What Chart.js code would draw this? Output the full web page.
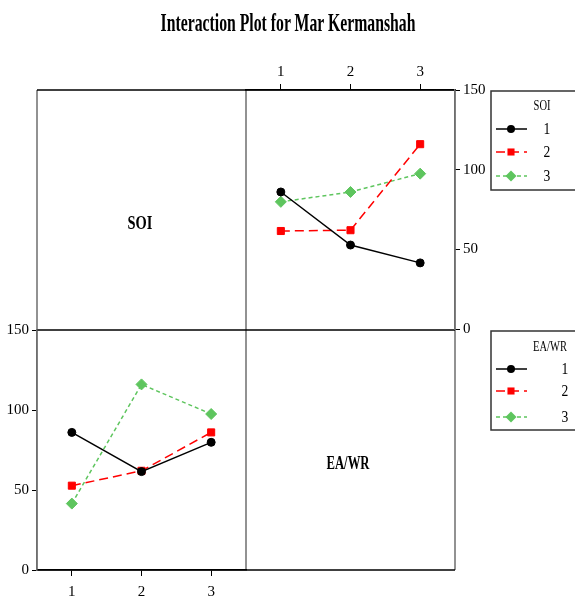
<!DOCTYPE html>
<html>
<head>
<meta charset="utf-8">
<script src="https://cdn.jsdelivr.net/npm/chart.js@4.4.1/dist/chart.umd.min.js"></script>
<style>
  html, body { margin: 0; padding: 0; background: #fff; }
  #wrap { position: relative; width: 575px; height: 599px; overflow: hidden; }
  canvas { position: absolute; left: 0; top: 0; }
  .lbl { position: absolute; font-family: 'Liberation Serif', serif; font-weight: bold; color: #000; white-space: nowrap; line-height: 1.1; }
  #title { left: 288px; top: 23px; font-size: 25px; transform: translate(-50%, -50%) scaleX(0.63); }
  #soiLbl { left: 140px; top: 223px; font-size: 19px; transform: translate(-50%, -50%) scaleX(0.76); }
  #eaLbl { left: 348px; top: 463px; font-size: 19px; transform: translate(-50%, -50%) scaleX(0.67); }
</style>
</head>
<body>
<div id="wrap">
  <canvas id="leftChart" width="575" height="599"></canvas>
  <canvas id="rightChart" width="575" height="599"></canvas>
  <div class="lbl" id="title">Interaction Plot for Mar Kermanshah</div>
  <div class="lbl" id="soiLbl">SOI</div>
  <div class="lbl" id="eaLbl">EA/WR</div>
</div>

<script>
// levels of both factors
var levels = ['1', '2', '3'];

// mean response for each SOI level, across EA/WR = 1, 2, 3
var soi1 = [86.0, 52.7, 41.5];
var soi2 = [61.5, 62.0, 116.0];
var soi3 = [79.8, 86.0, 97.5];

var yTicks = [0, 50, 100, 150];

// same table seen the other way: one line per EA/WR level, across SOI = 1, 2, 3
var soiRows = [soi1, soi2, soi3];
var eawr = levels.map(function(l, j) {
    return soiRows.map(function(row) { return row[j]; });
});

var looks = [
    { color: '#000000', dash: [], point: 'circle', r: 4 },
    { color: '#ff0000', dash: [9, 5], point: 'rect', r: 5 },
    { color: '#5ec55e', dash: [4, 3], point: 'rectRot', r: 5.5 }
];

function series(label, values, i) {
    var lk = looks[i];
    return {
        label: label,
        data: values,
        borderColor: lk.color,
        backgroundColor: lk.color,
        borderWidth: 1.5,
        borderDash: lk.dash,
        pointStyle: lk.point,
        pointRadius: lk.r,
        pointBorderWidth: 1,
        tension: 0
    };
}

Chart.defaults.font.family = "'Liberation Serif', serif";
Chart.defaults.font.size = 15;
Chart.defaults.color = '#000';

function marker(ctx, style, r, x, y) {
    ctx.beginPath();
    if (style == 'circle') {
        ctx.arc(x, y, r, 0, Math.PI * 2);
    } else if (style == 'rect') {
        var s = r * Math.SQRT1_2;
        ctx.rect(x - s, y - s, 2 * s, 2 * s);
    } else {
        ctx.moveTo(x, y - r); ctx.lineTo(x + r, y); ctx.lineTo(x, y + r); ctx.lineTo(x - r, y);
        ctx.closePath();
    }
    ctx.fill();
}

// legend box to the right of the panels
var legendBox = {
    id: 'legendBox',
    afterDraw: function(chart, args, o) {
        var ctx = chart.ctx;
        ctx.save();
        ctx.strokeStyle = '#333';
        ctx.lineWidth = 1.5;
        ctx.strokeRect(o.x, o.y, 140, o.h);

        ctx.fillStyle = '#000';
        ctx.textBaseline = 'middle';
        ctx.textAlign = 'center';
        ctx.font = "14px 'Liberation Serif'";
        ctx.save();
        ctx.translate(o.titleX, o.titleY);
        ctx.scale(0.75, 1);
        ctx.fillText(o.title, 0, 0);
        ctx.restore();

        chart.data.datasets.forEach(function(ds, i) {
            var y = o.rows[i];
            ctx.strokeStyle = ds.borderColor;
            ctx.lineWidth = ds.borderWidth;
            ctx.setLineDash(ds.borderDash);
            ctx.beginPath();
            ctx.moveTo(496, y);
            ctx.lineTo(527, y);
            ctx.stroke();
            ctx.setLineDash([]);
            ctx.fillStyle = ds.backgroundColor;
            marker(ctx, ds.pointStyle, ds.pointRadius, 511, y);

            ctx.fillStyle = '#000';
            ctx.font = "17px 'Liberation Serif'";
            ctx.save();
            ctx.translate(o.labelX, y + 1);
            ctx.scale(0.8, 1);
            ctx.fillText(ds.label, 0, 0);
            ctx.restore();
        });
        ctx.restore();
    }
};

// the 2x2 frame, taken from the lower-left chart area
var frame = {
    id: 'frame',
    beforeDraw: function(chart) {
        var a = chart.chartArea;
        var w = a.right - a.left, h = a.bottom - a.top;
        var ctx = chart.ctx;
        ctx.save();
        ctx.lineWidth = 1.5;
        ctx.strokeStyle = '#6e6e6e';
        [a.left, a.right, a.right + w].forEach(function(x) {
            ctx.beginPath(); ctx.moveTo(x, a.top - h); ctx.lineTo(x, a.bottom); ctx.stroke();
        });
        ctx.strokeStyle = '#000';
        [a.top - h, a.top, a.bottom].forEach(function(y) {
            ctx.beginPath(); ctx.moveTo(a.left, y); ctx.lineTo(a.right + w, y); ctx.stroke();
        });
        ctx.restore();
    }
};

function yScale(pos, width) {
    return {
        position: pos,
        min: yTicks[0],
        max: yTicks[yTicks.length - 1],
        afterBuildTicks: function(s) { s.ticks = yTicks.map(function(v) { return { value: v }; }); },
        ticks: { padding: 3 },
        grid: { drawOnChartArea: false, tickLength: 5, color: '#000' },
        border: { color: '#6e6e6e', width: 1.5 },
        afterFit: function(s) { s.width = width; s.paddingTop = 0; s.paddingBottom = 0; }
    };
}

function xScale(pos, height, pad) {
    return {
        type: 'category',
        position: pos,
        offset: true,
        ticks: { padding: pad },
        grid: { offset: false, drawOnChartArea: false, tickLength: 6, color: '#000' },
        border: { color: '#000', width: 1.5 },
        afterFit: function(s) { s.height = height; s.paddingLeft = 0; s.paddingRight = 0; }
    };
}

// lower left: EA/WR lines across SOI
new Chart(document.getElementById('leftChart'), {
    type: 'line',
    data: {
        labels: levels,
        datasets: eawr.map(function(v, i) { return series(levels[i], v, i); })
    },
    options: {
        responsive: false,
        animation: false,
        layout: { padding: { left: 0, right: 329, top: 330, bottom: 0 } },
        plugins: {
            legend: { display: false },
            tooltip: { enabled: false },
            legendBox: { x: 491, y: 331, h: 99, title: 'EA/WR', titleX: 550, titleY: 347, labelX: 565, rows: [369, 391, 417] }
        },
        scales: {
            x: xScale('bottom', 29, 7),
            y: yScale('left', 37)
        }
    },
    plugins: [frame, legendBox]
});

// upper right: SOI lines across EA/WR
new Chart(document.getElementById('rightChart'), {
    type: 'line',
    data: {
        labels: levels,
        datasets: soiRows.map(function(v, i) { return series(levels[i], v, i); })
    },
    options: {
        responsive: false,
        animation: false,
        layout: { padding: { left: 246, right: 84, top: 60, bottom: 270 } },
        plugins: {
            legend: { display: false },
            tooltip: { enabled: false },
            legendBox: { x: 491, y: 91, h: 99, title: 'SOI', titleX: 542, titleY: 106, labelX: 547, rows: [129, 152, 176] }
        },
        scales: {
            x: xScale('top', 30, 3),
            y: yScale('right', 36)
        }
    },
    plugins: [legendBox]
});
</script>
</body>
</html>
